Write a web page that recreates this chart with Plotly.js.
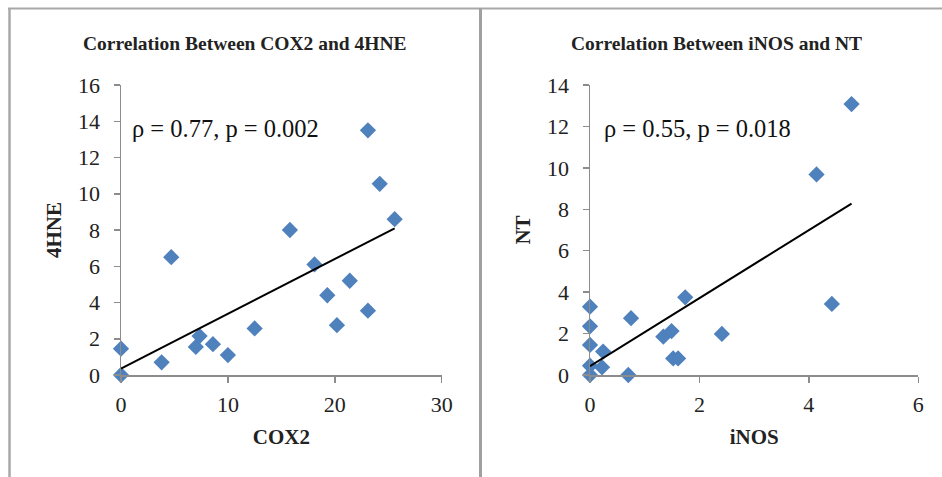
<!DOCTYPE html>
<html>
<head>
<meta charset="utf-8">
<script src="https://cdn.plot.ly/plotly-3.0.1.min.js"></script>
<style>html,body{margin:0;padding:0;background:#fff;}#chart{width:942px;height:477px;}</style>
</head>
<body>
<div id="chart"></div>
<script>
// Left panel: COX2 vs 4HNE
const cox2 = [0, 0, 3.8, 4.7, 7.0, 7.35, 8.6, 10.0, 12.5, 15.8, 18.1, 19.3, 20.2, 21.4, 23.1, 23.1, 24.2, 25.6];
const hne4 = [0, 1.45, 0.7, 6.5, 1.55, 2.15, 1.7, 1.1, 2.57, 8.0, 6.1, 4.4, 2.75, 5.2, 3.55, 13.5, 10.55, 8.6];
// Right panel: iNOS vs NT
const inos = [0, 0, 0, 0, 0, 0.22, 0.24, 0.70, 0.75, 1.34, 1.49, 1.52, 1.61, 1.74, 2.41, 4.14, 4.42, 4.78];
const nt   = [0, 0.45, 1.45, 2.35, 3.3, 0.37, 1.13, 0, 2.74, 1.85, 2.12, 0.8, 0.8, 3.75, 1.98, 9.68, 3.43, 13.08];

const titles = ["Correlation Between COX2 and 4HNE", "Correlation Between iNOS and NT"];
const statLabels = ["\u03c1 = 0.77, p = 0.002", "\u03c1 = 0.55, p = 0.018"];
const xTitles = ["COX2", "iNOS"];
const yTitles = ["4HNE", "NT"];

function fit(x, y) {
  const n = x.length;
  const mx = x.reduce((a,b)=>a+b,0)/n, my = y.reduce((a,b)=>a+b,0)/n;
  let sxy = 0, sxx = 0;
  for (let i=0;i<n;i++){ sxy += (x[i]-mx)*(y[i]-my); sxx += (x[i]-mx)*(x[i]-mx); }
  const b = sxy/sxx, a = my - b*mx;
  const x0 = Math.min(...x), x1 = Math.max(...x);
  return {x:[x0,x1], y:[a+b*x0, a+b*x1]};
}

const blue = '#4F81BD';
const serif = 'Liberation Serif, DejaVu Serif, serif';
const f1 = fit(cox2, hne4), f2 = fit(inos, nt);

const traces = [
  {x: cox2, y: hne4, type:'scatter', mode:'markers', marker:{symbol:'diamond', size:12.5, color:blue}, xaxis:'x', yaxis:'y', cliponaxis:false},
  {x: f1.x, y: f1.y, type:'scatter', mode:'lines', line:{color:'#000', width:2}, xaxis:'x', yaxis:'y'},
  {x: inos, y: nt, type:'scatter', mode:'markers', marker:{symbol:'diamond', size:12.5, color:blue}, xaxis:'x2', yaxis:'y2', cliponaxis:false},
  {x: f2.x, y: f2.y, type:'scatter', mode:'lines', line:{color:'#000', width:2}, xaxis:'x2', yaxis:'y2'}
];

const axBase = {
  showgrid:false, zeroline:false, showline:true, linecolor:'#8c8c8c', linewidth:1.5,
  ticks:'outside', ticklen:6, tickcolor:'#8c8c8c', tickwidth:1.5,
  tickfont:{family:serif, size:22, color:'#222'}, fixedrange:true
};
const titleFont = {family:serif, size:21, color:'#222'};

const layout = {
  width:942, height:477, margin:{l:0,r:0,t:0,b:0},
  paper_bgcolor:'#fff', plot_bgcolor:'rgba(0,0,0,0)', showlegend:false,
  xaxis: Object.assign({}, axBase, {domain:[121/942, 441.7/942], range:[0,30], tickvals:[0,10,20,30], anchor:'y', ticklabelstandoff:3,
    title:{text:'<b>'+xTitles[0]+'</b>', font:titleFont, standoff:13}}),
  yaxis: Object.assign({}, axBase, {domain:[1-375/477, 1-85/477], range:[0,16], dtick:2, anchor:'x', ticklabelstandoff:9,
    title:{text:'<b>'+yTitles[0]+'</b>', font:titleFont, standoff:10}}),
  xaxis2: Object.assign({}, axBase, {domain:[590/942, 918.3/942], range:[0,6], dtick:2, anchor:'y2', ticklabelstandoff:3,
    title:{text:'<b>'+xTitles[1]+'</b>', font:titleFont, standoff:13}}),
  yaxis2: Object.assign({}, axBase, {domain:[1-375/477, 1-85/477], range:[0,14], dtick:2, anchor:'x2', ticklabelstandoff:9,
    title:{text:'<b>'+yTitles[1]+'</b>', font:titleFont, standoff:10}}),
  annotations: [
    {text:'<b>'+titles[0]+'</b>', xref:'paper', yref:'paper', x:245/942, y:1-43/477, showarrow:false, xanchor:'center', yanchor:'middle', font:{family:serif, size:19.5, color:'#222'}},
    {text:'<b>'+titles[1]+'</b>', xref:'paper', yref:'paper', x:716/942, y:1-43/477, showarrow:false, xanchor:'center', yanchor:'middle', font:{family:serif, size:19.5, color:'#222'}},
    {text:statLabels[0], xref:'x', yref:'y', x:0.8, y:13.6, showarrow:false, xanchor:'left', yanchor:'middle', font:{family:serif, size:24.5, color:'#111'}},
    {text:statLabels[1], xref:'x2', yref:'y2', x:0.22, y:11.9, showarrow:false, xanchor:'left', yanchor:'middle', font:{family:serif, size:24.5, color:'#111'}}
  ],
  shapes: [
    {type:'line', xref:'paper', yref:'paper', x0:8/942, x1:1, y0:1-8.5/477, y1:1-8.5/477, line:{color:'#a8a8a8', width:2}},
    {type:'line', xref:'paper', yref:'paper', x0:9.5/942, x1:9.5/942, y0:0, y1:1-8/477, line:{color:'#a8a8a8', width:2.5}},
    {type:'line', xref:'paper', yref:'paper', x0:480.5/942, x1:480.5/942, y0:0, y1:1-8/477, line:{color:'#a0a0a0', width:3}}
  ]
};

Plotly.newPlot('chart', traces, layout, {staticPlot:true, displayModeBar:false});
</script>
</body>
</html>
